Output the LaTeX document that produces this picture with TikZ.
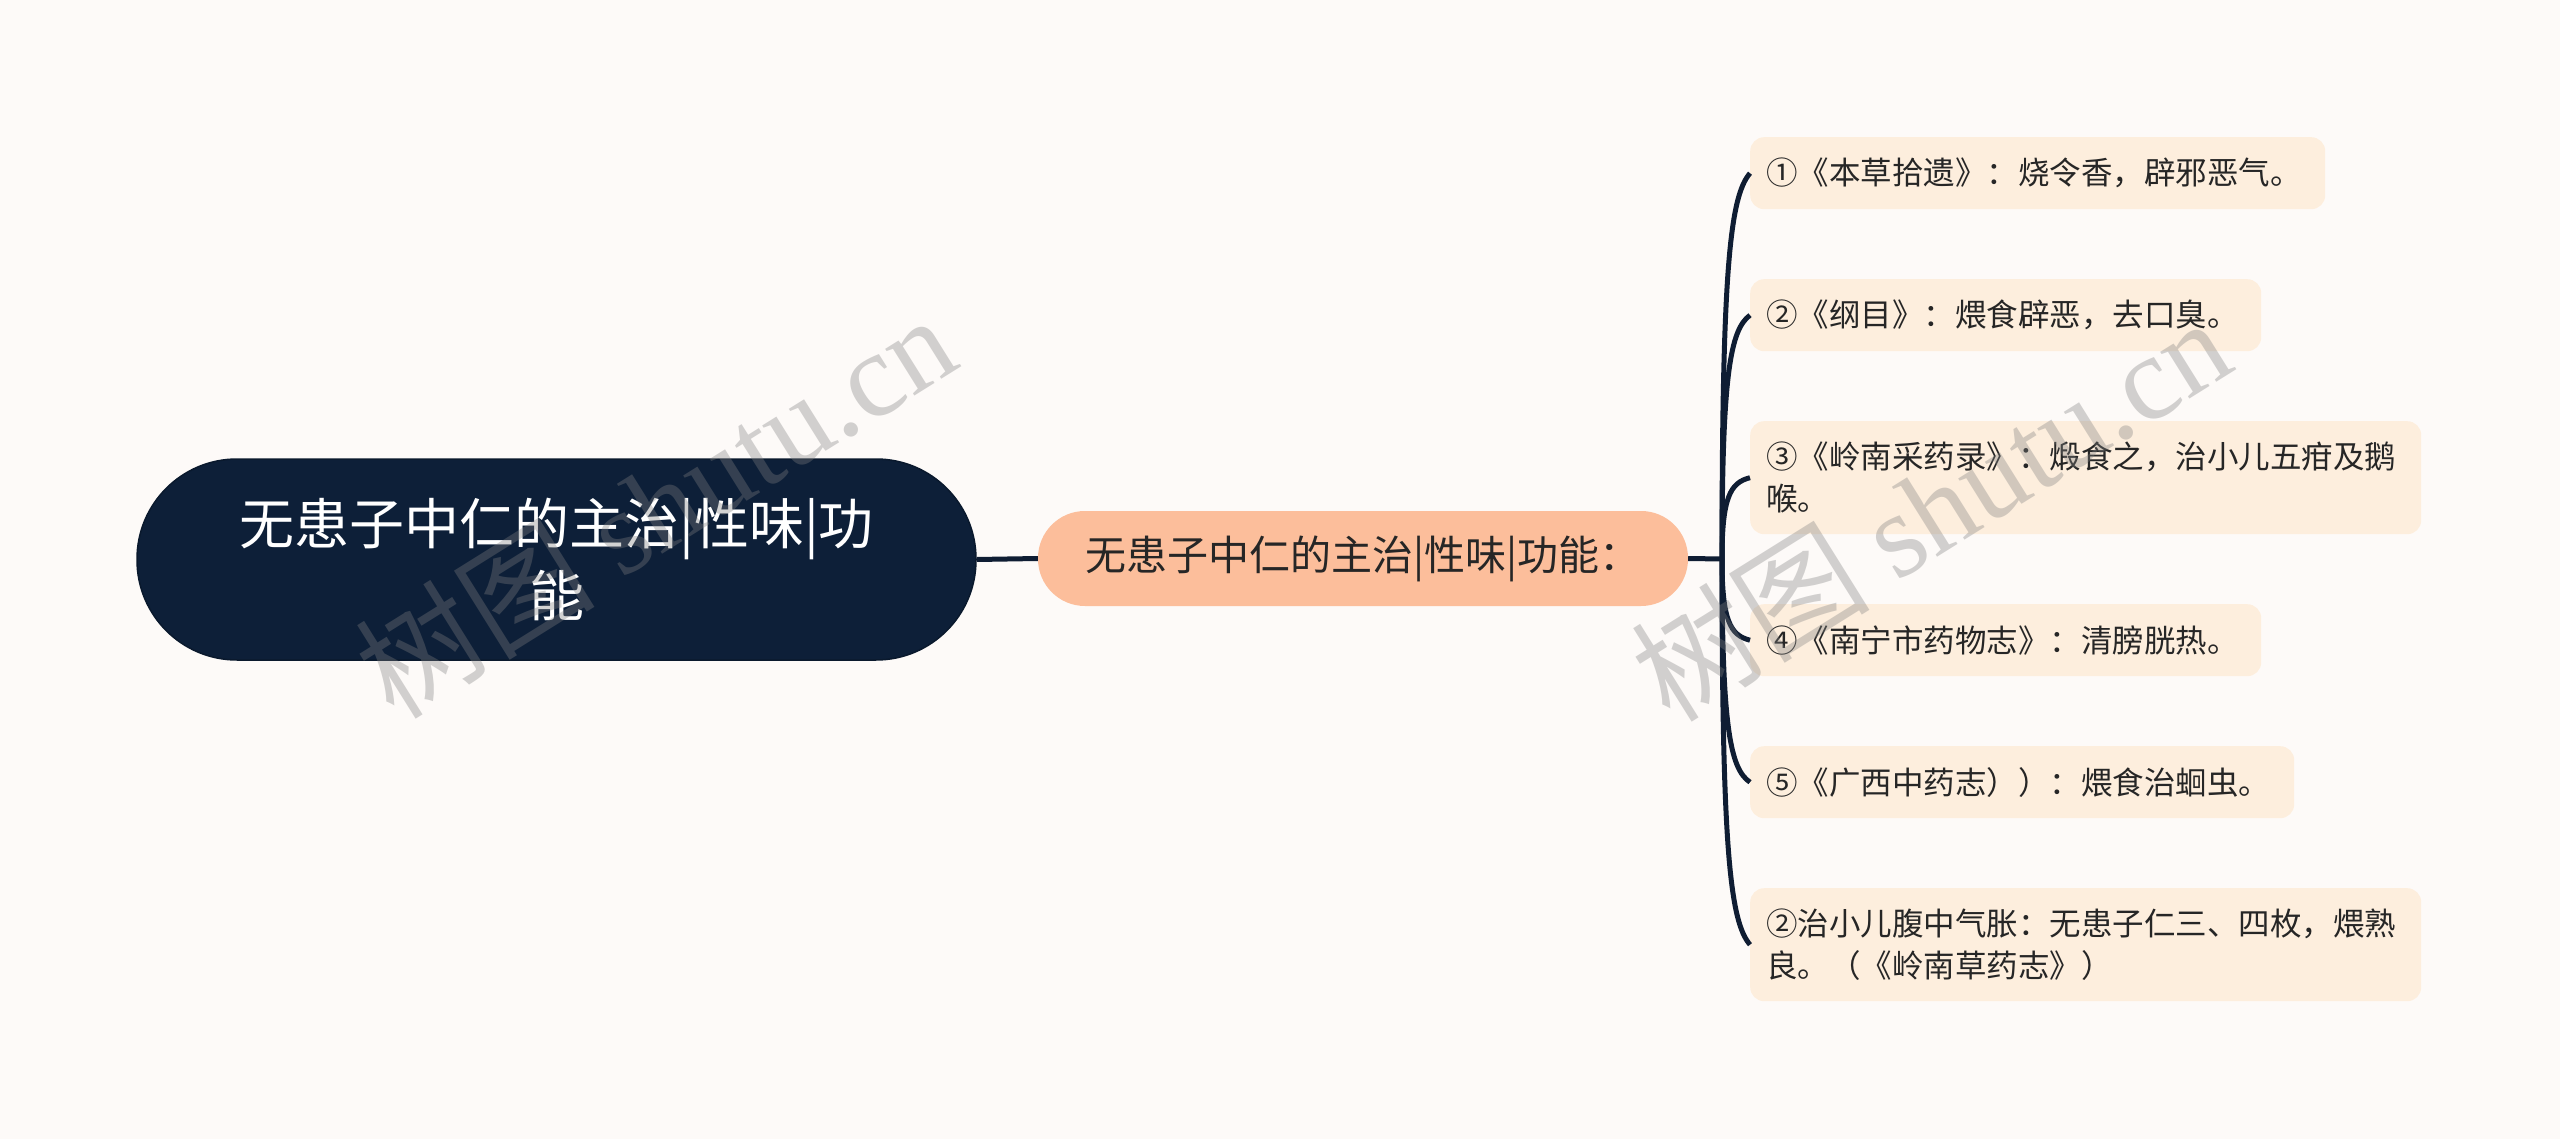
\documentclass[tikz,border=0pt]{standalone}
\usepackage{fontspec}
\setmainfont{Noto Sans CJK SC}
\newfontfamily\wmlatin{Liberation Serif}
\usetikzlibrary{calc}
\definecolor{bg}{HTML}{FDFAF8}
\definecolor{navy}{HTML}{0D1F38}
\definecolor{peach}{HTML}{FCBE9B}
\definecolor{cream}{HTML}{FDEEDD}
\definecolor{ink}{HTML}{262626}
\definecolor{linec}{HTML}{0F1D33}
\begin{document}
\begin{tikzpicture}[x=1pt,y=-1pt,
  rootbox/.style={rectangle, rounded corners=100pt, fill=navy, draw=navy!80!black, line width=1.5pt, text=white, font=\fontsize{55}{72}\selectfont, align=center, minimum width=839pt, minimum height=201pt, inner sep=0pt},
  midbox/.style={rectangle, rounded corners=47pt, fill=peach, text=ink, font=\fontsize{41}{50}\selectfont, minimum width=650pt, minimum height=95pt, inner sep=0pt},
  leafbox/.style={rectangle, rounded corners=14pt, fill=cream, text=ink, font=\fontsize{31.5}{42}\selectfont, align=left, anchor=north west, inner xsep=16pt, inner ysep=0pt},
  branch/.style={draw=linec, line width=5pt},
  wm/.style={text=gray, text opacity=0.35, rotate=32, font=\fontsize{120}{120}\selectfont}
]
\useasboundingbox (0,0) rectangle (2560,1139);
\fill[bg] (0,0) rectangle (2560,1139);

\node[rootbox] (root) at (556.5,559.5) {无患子中仁的主治|性味|功\\能};
\node[midbox] (mid) at (1363,558.5) {无患子中仁的主治|性味|功能：};

\node[leafbox, minimum height=72pt, text width=543pt] (L1) at (1750,137) {①《本草拾遗》：烧令香，辟邪恶气。};
\node[leafbox, minimum height=72pt, text width=479pt] (L2) at (1750,279) {②《纲目》：煨食辟恶，去口臭。};
\node[leafbox, minimum height=113pt, text width=639pt] (L3) at (1750,421) {③《岭南采药录》：煅食之，治小儿五疳及鹅\\喉。};
\node[leafbox, minimum height=72pt, text width=479pt] (L4) at (1750,604) {④《南宁市药物志》：清膀胱热。};
\node[leafbox, minimum height=72pt, text width=512pt] (L5) at (1750,746) {⑤《广西中药志））：煨食治蛔虫。};
\node[leafbox, minimum height=113pt, text width=639pt] (L6) at (1750,888) {②治小儿腹中气胀：无患子仁三、四枚，煨熟\\良。（《岭南草药志》）};

\coordinate (S) at (1722,559);
\draw[branch] (root.east) -- (mid.west);
\draw[branch] (mid.east) -- (S);
\foreach \n in {1,...,6}
  \draw[branch] (S) .. controls ($(S)!0.75!(S|-L\n.west)$) and ($(S)!0.94!(S|-L\n.west)+(8,0)$) .. (L\n.west);

\node[wm] (wm1) at (655,505) {树图 {\wmlatin shutu.cn}};
\node[wm] (wm2) at (1930,508) {树图 {\wmlatin shutu.cn}};
\end{tikzpicture}
\end{document}
